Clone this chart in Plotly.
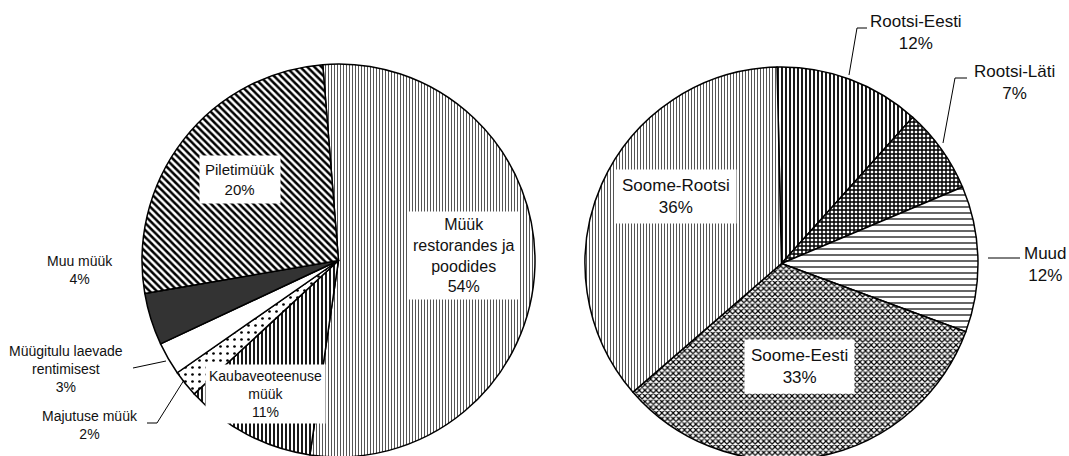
import plotly.graph_objects as go

W, H = 1069, 462   # page clips at 456, like the reference's cut-off pies

# ---- Left pie: revenue structure ----
left_labels = ["Müük restorandes ja poodides", "Kaubaveoteenuse müük", "Majutuse müük",
               "Müügitulu laevade rentimisest", "Muu müük", "Piletimüük"]
left_values = [53.6, 10.8, 2.2, 2.7, 4.3, 26.4]          # slice sizes as drawn
left_pct_text = ["54%", "11%", "2%", "3%", "4%", "20%"]    # percentages as printed

# ---- Right pie: routes ----
right_labels = ["Rootsi-Eesti", "Rootsi-Läti", "Muud", "Soome-Eesti", "Soome-Rootsi"]
right_values = [12, 7, 12, 33, 36]
right_pct_text = ["12%", "7%", "12%", "33%", "36%"]

left_colors = ["white", "white", "white", "white", "#333333", "white"]
left_patterns = dict(
    shape=["|", "|", ".", "", "", "\\"],
    fgcolor=["#555555", "black", "black", "black", "#333333", "black"],
    bgcolor=["white", "white", "white", "white", "#333333", "white"],
    size=[3, 4, 7, 8, 8, 5],
    solidity=[0.35, 0.45, 0.12, 0.1, 0.1, 0.5],
    fillmode="replace",
)
right_colors = ["white"] * 5
right_patterns = dict(
    shape=["|", "+", "-", "x", "|"],
    fgcolor=["black", "black", "black", "black", "#555555"],
    bgcolor=["white", "white", "white", "white", "white"],
    size=[4, 4, 6, 4, 3],
    solidity=[0.45, 0.6, 0.2, 0.5, 0.35],
    fillmode="replace",
)

def px_dom(cx, cy, r):
    return dict(x=[(cx - r) / W, (cx + r) / W], y=[1 - (cy + r) / H, 1 - (cy - r) / H])

fig = go.Figure()
fig.add_trace(go.Pie(
    labels=left_labels, values=left_values, sort=False, direction="clockwise",
    rotation=-4.6, textinfo="none", textposition="none", showlegend=False,
    marker=dict(colors=left_colors, line=dict(color="black", width=1.5), pattern=left_patterns),
    domain=px_dom(338.5, 260.5, 196.5),
))
fig.add_trace(go.Pie(
    labels=right_labels, values=right_values, sort=False, direction="clockwise",
    rotation=-1.3, textinfo="none", textposition="none", showlegend=False,
    marker=dict(colors=right_colors, line=dict(color="black", width=1.5), pattern=right_patterns),
    domain=px_dom(781.5, 263.5, 196.5),
))

FONT = "Liberation Sans, Arial, sans-serif"

def ann(text, x, y, size=14, box=False, pad=5):
    d = dict(text=text, x=x / W, y=1 - y / H, xref="paper", yref="paper",
             xanchor="center", yanchor="middle", showarrow=False,
             font=dict(family=FONT, size=size, color="#111111"))
    if box:
        d.update(bgcolor="white", borderpad=pad)
    return d

annotations = [
    ann("Piletimüük<br>" + left_pct_text[5], 240, 179, 15, True, 5),
    ann("Müük<br>restorandes ja<br>poodides<br>" + left_pct_text[0], 463, 255, 16, True, 4),
    ann("Kaubaveoteenuse<br>müük<br>" + left_pct_text[1], 265, 394, 14, True, 3),
    ann("Muu müük<br>" + left_pct_text[4], 80, 270, 14),
    ann("Müügitulu laevade<br>rentimisest<br>" + left_pct_text[3], 66, 369, 14),
    ann("Majutuse müük<br>" + left_pct_text[2], 90, 425, 14),
    ann("Rootsi-Eesti<br>" + right_pct_text[0], 916, 33, 17),
    ann("Rootsi-Läti<br>" + right_pct_text[1], 1014, 83, 17),
    ann("Muud<br>" + right_pct_text[2], 1045, 264, 17),
    ann("Soome-Rootsi<br>" + right_pct_text[4], 676, 196, 17, True, 6),
    ann("Soome-Eesti<br>" + right_pct_text[3], 799, 366, 17, True, 6),
]

def pth(points):
    s = "M " + " L ".join(f"{x / W},{1 - y / H}" for x, y in points)
    return dict(type="path", path=s, xref="paper", yref="paper",
                line=dict(color="black", width=1))

shapes = [
    pth([(133, 368), (166, 361)]),
    pth([(147, 423), (157, 423), (184, 380)]),
    pth([(857, 28), (867, 28)]), pth([(857, 28), (849, 75)]),
    pth([(955, 78), (967, 78)]), pth([(955, 78), (943, 143)]),
    pth([(988, 258), (1020, 258)]),
]

fig.update_layout(
    width=W, height=H, margin=dict(l=0, r=0, t=0, b=0),
    paper_bgcolor="white", plot_bgcolor="white",
    annotations=annotations, shapes=shapes,
)
fig.write_html("out.html", config={"displayModeBar": False},
               post_script="document.body.style.margin='0';document.body.style.overflow='hidden';")
